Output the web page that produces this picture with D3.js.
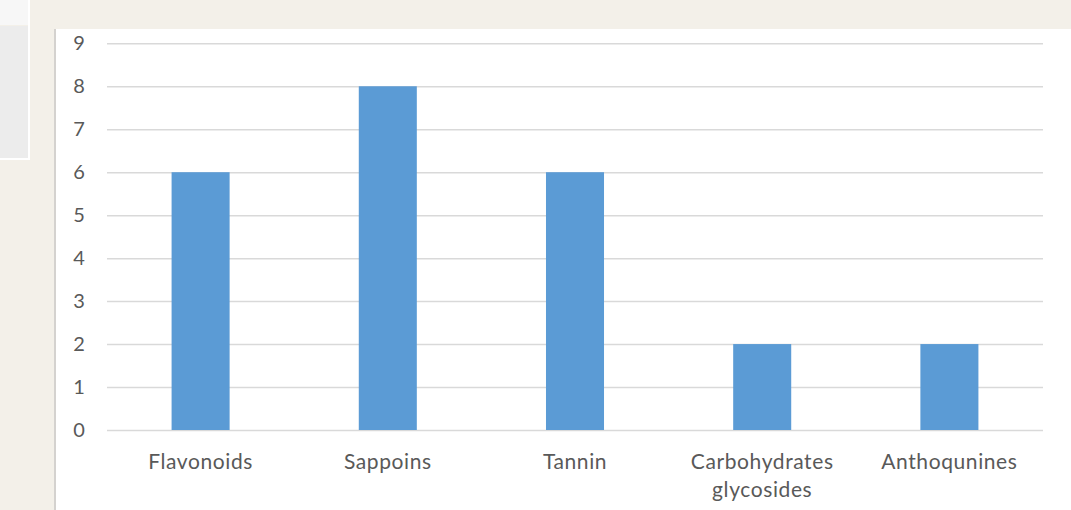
<!DOCTYPE html>
<html><head><meta charset="utf-8">
<script src="https://cdn.jsdelivr.net/npm/d3@7"></script>
<style>
html,body{margin:0;padding:0;background:#f3f0e9;}
svg{display:block;}
</style></head>
<body>
<svg id="c" width="1071" height="510"></svg>
<script>
const categories = [["Flavonoids"],["Sappoins"],["Tannin"],["Carbohydrates","glycosides"],["Anthoqunines"]];
const values = [6, 8, 6, 2, 2];
const yTicks = [0,1,2,3,4,5,6,7,8,9];

(function(){
const svg = d3.select("#c");
// backdrop panels
svg.append("rect").attr("x",0).attr("y",0).attr("width",1071).attr("height",510).attr("fill","#f3f0e9");
svg.append("rect").attr("x",0).attr("y",0).attr("width",28).attr("height",25).attr("fill","#f7f7f7");
svg.append("rect").attr("x",0).attr("y",26).attr("width",28).attr("height",132).attr("fill","#ececec");
svg.append("rect").attr("x",28).attr("y",0).attr("width",2).attr("height",160).attr("fill","#ffffff");
svg.append("rect").attr("x",0).attr("y",158).attr("width",30).attr("height",2).attr("fill","#ffffff");
// chart area
svg.append("rect").attr("x",54).attr("y",29).attr("width",1017).attr("height",481).attr("fill","#d4d2cf");
svg.append("rect").attr("x",56).attr("y",29).attr("width",1015).attr("height",481).attr("fill","#ffffff");

const mLeft = 107, mRight = 1043, mTop = 43.3, mBottom = 430;
const x = d3.scaleBand().domain(categories.map(d=>d.join(" "))).range([mLeft,mRight]).paddingInner(0.69).paddingOuter(0.345);
const y = d3.scaleLinear().domain([0,9]).range([mBottom,mTop]);

const font = "Lato, 'Open Sans', sans-serif";

const yAxis = svg.append("g").attr("transform",`translate(${mLeft},0)`)
  .call(d3.axisLeft(y).tickValues(yTicks).tickSize(-(mRight-mLeft)).tickPadding(22));
yAxis.select(".domain").remove();
yAxis.selectAll(".tick line").attr("stroke","#d9d9d9").attr("stroke-width",1.5);
yAxis.selectAll(".tick text").attr("fill","#595959").attr("font-family",font).attr("font-size",20).attr("text-anchor","middle").attr("dx",0).attr("x",-28);

svg.append("g").selectAll("rect").data(values).join("rect")
  .attr("x",(d,i)=>x(categories[i].join(" ")))
  .attr("width",x.bandwidth())
  .attr("y",d=>y(d))
  .attr("height",d=>y(0)-y(d))
  .attr("fill","#5b9bd5");

const xl = svg.append("g");
categories.forEach((c,i)=>{
  const cx = x(c.join(" "))+x.bandwidth()/2;
  const t = xl.append("text").attr("x",cx).attr("y",469)
    .attr("text-anchor","middle").attr("fill","#595959").attr("font-family",font).attr("font-size",21).attr("letter-spacing",0.6);
  c.forEach((line,j)=>t.append("tspan").attr("x",cx).attr("dy",j?27.5:0).text(line));
});
})();
</script>
</body></html>
